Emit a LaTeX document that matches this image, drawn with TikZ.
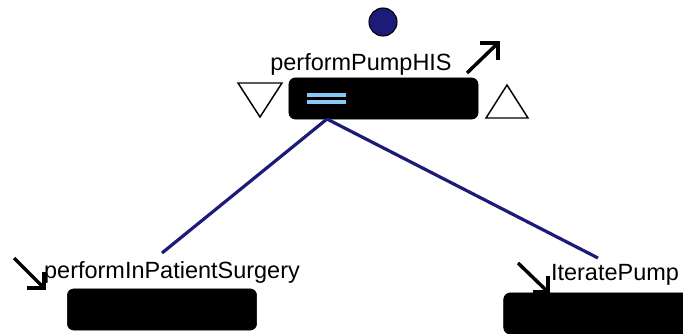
\documentclass[tikz,border=0pt]{standalone}
\usepackage{fontspec}
\setmainfont{Liberation Sans}
\definecolor{linkblue}{RGB}{28,28,120}
\definecolor{eqblue}{RGB}{135,200,245}

\begin{document}
\begin{tikzpicture}[x=0.75pt,y=-0.75pt,
  taskbox/.style={draw=black,fill=black,rounded corners=5pt,minimum width=142pt,minimum height=31pt,inner sep=0pt},
  tasklabel/.style={anchor=base,inner sep=0pt,font=\fontsize{17.6}{20}\selectfont},
  link/.style={linkblue,line width=2.4pt},
  marker/.style={black,line width=2.6pt},
  tri/.style={black,line width=1.1pt,line join=miter}]
  \useasboundingbox (0,0) rectangle (683,333);
  \clip (0,0) rectangle (683,333);
  % root task
  \node[circle,draw=black,line width=0.8pt,fill=linkblue,minimum size=21pt,inner sep=0pt] (state) at (383,22) {};
  \node[tasklabel] (rootlbl) at (361,70) {performPumpHIS};
  \node[taskbox] (root) at (383.5,98.5) {};
  \fill[eqblue] (307,92.5) rectangle (346,96.8);
  \fill[eqblue] (307,99.5) rectangle (346,103.8);
  \draw[tri] (238,83) -- (282,83) -- (260,117) -- cycle;
  \draw[tri] (486,118) -- (528,118) -- (507,85) -- cycle;
  \draw[marker] (467,73) -- (498,43);
  \draw[marker] (480,43) -- (498,43) -- (498,60);
  % children
  \node[tasklabel] (lbl1) at (172,278) {performInPatientSurgery};
  \node[taskbox] (child1) at (162,309.5) {};
  \node[tasklabel] (lbl2) at (615,280) {IteratePump};
  \node[taskbox,minimum width=143pt] (child2) at (599,313.5) {};
  \coordinate (port) at (327,119);
  \coordinate (end1) at (162,253);
  \coordinate (end2) at (598,258);
  \draw[link] (port) -- (end1);
  \draw[link] (port) -- (end2);
  \draw[marker] (14,258) -- (44,288);
  \draw[marker] (27,288) -- (44,288) -- (44,272);
  \draw[marker] (518,263) -- (548,292);
  \draw[marker] (533,292) -- (548,292) -- (548,276);
\end{tikzpicture}
\end{document}
